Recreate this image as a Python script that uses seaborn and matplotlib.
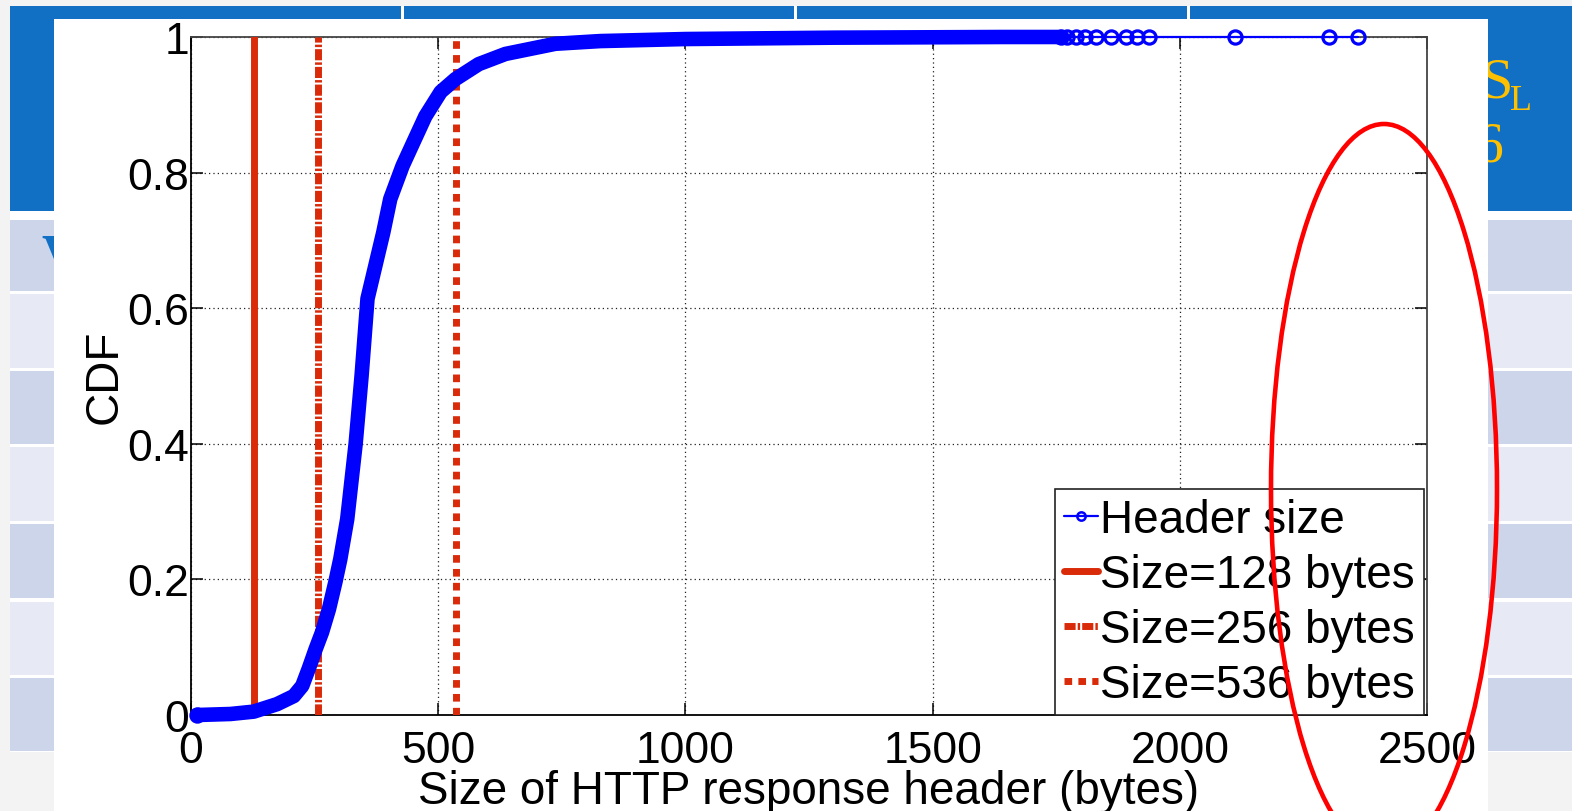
import matplotlib
matplotlib.use("Agg")
import matplotlib.pyplot as plt
from matplotlib.patches import Rectangle, Ellipse
from matplotlib.lines import Line2D
import seaborn as sns
import pandas as pd

# CDF of the HTTP response header size
header_bytes = [13, 80, 127, 174, 208, 225, 238, 252, 265, 279, 292, 302, 316, 333, 345, 357,
                389, 403, 428, 450, 474, 505, 535, 582, 636, 737, 828, 1000, 1300, 1640, 1760]
header_cdf = [0.0, 0.0015, 0.005, 0.016, 0.028, 0.043, 0.068, 0.097, 0.122, 0.156, 0.196, 0.23,
              0.289, 0.40, 0.50, 0.614, 0.712, 0.761, 0.81, 0.845, 0.883, 0.919, 0.938, 0.96,
              0.975, 0.99, 0.994, 0.997, 0.999, 1.0, 1.0]

# sparse samples in the tail, visible as single circles
tail_bytes = [1760, 1771, 1790, 1808, 1830, 1860, 1892, 1914, 1937, 2111, 2301, 2360]
tail_cdf = [1.0, 1.0, 1.0, 1.0, 1.0, 1.0, 1.0, 1.0, 1.0, 1.0, 1.0, 1.0]

# reference sizes drawn as vertical lines
ref_sizes = [128, 256, 536]
ref_labels = ["Size=128 bytes", "Size=256 bytes", "Size=536 bytes"]

x_ticks = [0, 500, 1000, 1500, 2000, 2500]
y_ticks = [0, 0.2, 0.4, 0.6, 0.8, 1]
y_ticklabels = ["0", "0.2", "0.4", "0.6", "0.8", "1"]

# figure geometry in pixels
W, H = 1572, 812
BLUE = "#1170C4"
ROW_DARK = "#CCD5EA"
ROW_LIGHT = "#E7EAF5"
RED = "#D92B0A"

sns.set_style("white")
plt.rcParams["font.family"] = ["Liberation Sans", "DejaVu Sans"]
plt.rcParams["text.color"] = "black"
plt.rcParams["axes.labelcolor"] = "black"
plt.rcParams["xtick.color"] = "black"
plt.rcParams["ytick.color"] = "black"

fig = plt.figure(figsize=(W / 100, H / 100), dpi=100)
fig.patch.set_facecolor("#F3F3F3")

# slide in the background
bg = fig.add_axes([0, 0, 1, 1], zorder=0)
bg.set_xlim(0, W)
bg.set_ylim(H, 0)
bg.axis("off")

def box(x0, y0, x1, y1, color, z=1):
    bg.add_patch(Rectangle((x0, y0), x1 - x0, y1 - y0, facecolor=color, lw=0, zorder=z))

box(10, 7, W, 212, BLUE)
for sx in [401, 794, 1187]:
    box(sx, 7, sx + 3, 212, "white", 2)
box(10, 212, W, 753, "white")
rows = [(221, 292), (295, 369), (372, 445), (448, 522), (525, 599), (603, 676), (679, 752)]
for i, (r0, r1) in enumerate(rows):
    box(10, r0, W, r1, ROW_DARK if i % 2 == 0 else ROW_LIGHT, 2)

bg.text(1480, 97, "S", color="#FFC000", fontsize=42, family="Liberation Serif", zorder=3)
bg.text(1510, 110, "L", color="#FFC000", fontsize=26, family="Liberation Serif", zorder=3)
bg.text(1476, 162, "6", color="#FFC000", fontsize=40, family="Liberation Serif", zorder=3)
bg.text(41, 274, "V", color=BLUE, fontsize=40, family="Liberation Serif", weight="bold", zorder=3)

# pasted chart picture
box(54, 20, 1488, H + 2, "white", 5)

# the chart
ax = fig.add_axes([191 / W, (H - 716) / H, (1427 - 191) / W, (716 - 38) / H], zorder=2)
ax.set_facecolor("white")

ax.grid(True, color="#222222", lw=0.9, ls=(0, (1, 2.5)))
ax.set_axisbelow(True)

line_styles = ["-", (0, (1.6, 0.3, 0.35, 0.3)), (0, (1.1, 0.9))]
for size, style in zip(ref_sizes, line_styles):
    ax.axvline(size, color=RED, lw=5, ls=style, zorder=3)

df = pd.DataFrame({"bytes": header_bytes, "cdf": header_cdf})
sns.lineplot(data=df, x="bytes", y="cdf", sort=False, estimator=None, ax=ax,
             color="blue", lw=10.5, clip_on=False, zorder=4, solid_capstyle="round",
             solid_joinstyle="round")
tail = pd.DataFrame({"bytes": tail_bytes, "cdf": tail_cdf})
sns.lineplot(data=tail, x="bytes", y="cdf", sort=False, estimator=None, ax=ax,
             color="blue", lw=1.6, marker="o", ms=9.5, mfc="none", mec="blue", mew=2.3,
             clip_on=False, zorder=4)
sns.lineplot(x=header_bytes[:1], y=header_cdf[:1], ax=ax, color="blue", marker="o", ms=9.5,
             mfc="none", mec="blue", mew=2.3, clip_on=False, zorder=4, estimator=None)

ax.set_xlim(0, 2500)
ax.set_ylim(0, 1)
ax.set_xticks(x_ticks)
ax.set_xticklabels([str(t) for t in x_ticks])
ax.set_yticks(y_ticks)
ax.set_yticklabels(y_ticklabels)
ax.tick_params(direction="in", length=8.5, width=1.1, labelsize=32, color="black",
               labelcolor="black", top=True, right=True, bottom=True, left=True)
ax.tick_params(axis="x", pad=10.5)
ax.tick_params(axis="y", pad=1.5)
for side, sp in ax.spines.items():
    sp.set_visible(True)
    sp.set_color("black" if side in ("left", "bottom") else "#444444")
    sp.set_linewidth(1.3)

ax.set_xlabel("Size of HTTP response header (bytes)", fontsize=33, labelpad=-1)
ax.set_ylabel("CDF", fontsize=33, labelpad=0)

handles = [Line2D([], [], color="blue", lw=1.6, marker="o", ms=6, mfc="none", mew=1.8)]
for style in line_styles:
    handles.append(Line2D([], [], color=RED, lw=5, ls=style))
leg = ax.legend(handles, ["Header size"] + ref_labels, loc="upper left",
                bbox_to_anchor=(1055 / W, 1 - 490 / H), bbox_transform=fig.transFigure,
                fontsize=33, frameon=True, fancybox=False, framealpha=1, borderpad=0.19,
                labelspacing=0.24, handlelength=0.75, handletextpad=0.05, borderaxespad=0)
leg.get_frame().set_edgecolor("#222222")
leg.get_frame().set_linewidth(1.2)
leg.set_zorder(6)

# red highlight ellipse on top
ov = fig.add_axes([0, 0, 1, 1], zorder=3)
ov.set_xlim(0, W)
ov.set_ylim(H, 0)
ov.axis("off")
ov.patch.set_alpha(0)
ov.add_patch(Ellipse((1384, 490), 226, 730, fill=False, ec="red", lw=3.3, clip_on=False))

fig.savefig("out.png", dpi=100, facecolor=fig.get_facecolor())
